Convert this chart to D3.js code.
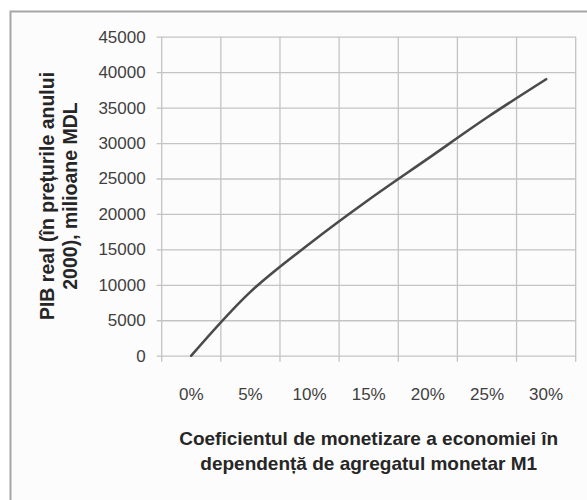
<!DOCTYPE html>
<html>
<head>
<meta charset="utf-8">
<script src="https://cdn.jsdelivr.net/npm/d3@7"></script>
<style>
  html, body { margin: 0; padding: 0; background: #ffffff; }
  svg { display: block; }
</style>
</head>
<body>
<svg id="chart" width="587" height="500"></svg>
<script>
// ---- data ----
const categories = ["0%", "5%", "10%", "15%", "20%", "25%", "30%"];
const pibValues = [0, 9000, 15800, 22000, 27800, 33600, 39000];
const yTicks = [0, 5000, 10000, 15000, 20000, 25000, 30000, 35000, 40000, 45000];
const yTitleLines = ["PIB real (în prețurile anului", "2000), milioane MDL"];
const xTitleLines = ["Coeficientul de monetizare a economiei în", "dependență de agregatul monetar M1"];

// ---- layout ----
const svg = d3.select("#chart");
const plot = { left: 161.7, right: 575.7, top: 36.7, bottom: 355.7 };

// outer box
svg.append("rect")
  .attr("x", 10.5).attr("y", 11.5)
  .attr("width", 600).attr("height", 520)
  .attr("fill", "#fcfcfc")
  .attr("stroke", "#a6a6a6").attr("stroke-width", 2);

const x = d3.scaleBand().domain(categories).range([plot.left, plot.right]).padding(0);
const y = d3.scaleLinear().domain([0, 45000]).range([plot.bottom, plot.top]);

const g = svg.append("g");

// horizontal gridlines (with small tick extension to the left)
const yg = g.append("g")
  .attr("transform", `translate(${plot.right},0)`)
  .call(d3.axisLeft(y).tickValues(yTicks).tickSize(plot.right - plot.left + 5).tickFormat(""));
yg.select(".domain").remove();
yg.selectAll("line").attr("stroke", "#c4c4c4").attr("stroke-width", 1.3);

// y labels
const yl = g.append("g")
  .attr("transform", `translate(${plot.left - 5},0)`)
  .call(d3.axisLeft(y).tickValues(yTicks).tickSize(0).tickPadding(11).tickFormat(d3.format("d")));
yl.select(".domain").remove();
yl.selectAll("text")
  .attr("font-family", "Liberation Sans, Arial, sans-serif")
  .attr("font-size", "17px")
  .attr("fill", "#3f3f3f");

// vertical gridlines at band boundaries (extend below as ticks)
const bounds = categories.map(c => x(c)).concat([x.range()[1]]);
g.append("g").selectAll("line").data(bounds).join("line")
  .attr("x1", d => d).attr("x2", d => d)
  .attr("y1", plot.top).attr("y2", plot.bottom + 6)
  .attr("stroke", "#c4c4c4").attr("stroke-width", 1.3);

// x labels
const xl = g.append("g")
  .attr("transform", `translate(0,${plot.bottom + 6})`)
  .call(d3.axisBottom(x).tickSize(0).tickPadding(26));
xl.select(".domain").remove();
xl.selectAll("text")
  .attr("font-family", "Liberation Sans, Arial, sans-serif")
  .attr("font-size", "17px")
  .attr("fill", "#3f3f3f");

// line
const line = d3.line()
  .x((d, i) => x(categories[i]) + x.bandwidth() / 2)
  .y(d => y(d))
  .curve(d3.curveCatmullRom.alpha(0.5));
g.append("path")
  .datum(pibValues)
  .attr("d", line)
  .attr("fill", "none")
  .attr("stroke", "#4a4a4a")
  .attr("stroke-width", 2.6)
  .attr("stroke-linecap", "round");

// y title
const yt = svg.append("text")
  .attr("transform", `translate(0,196) rotate(-90)`)
  .attr("text-anchor", "middle")
  .attr("font-family", "Liberation Sans, Arial, sans-serif")
  .attr("font-weight", "bold")
  .attr("font-size", "19.5px")
  .attr("fill", "#262626");
yt.selectAll("tspan").data(yTitleLines).join("tspan")
  .attr("x", 0)
  .attr("y", (d, i) => 54 + i * 23)
  .text(d => d);

// x title
const xt = svg.append("text")
  .attr("text-anchor", "middle")
  .attr("font-family", "Liberation Sans, Arial, sans-serif")
  .attr("font-weight", "bold")
  .attr("font-size", "19px")
  .attr("fill", "#262626");
xt.selectAll("tspan").data(xTitleLines).join("tspan")
  .attr("x", (plot.left + plot.right) / 2)
  .attr("y", (d, i) => 445 + i * 25)
  .text(d => d);
</script>
</body>
</html>
